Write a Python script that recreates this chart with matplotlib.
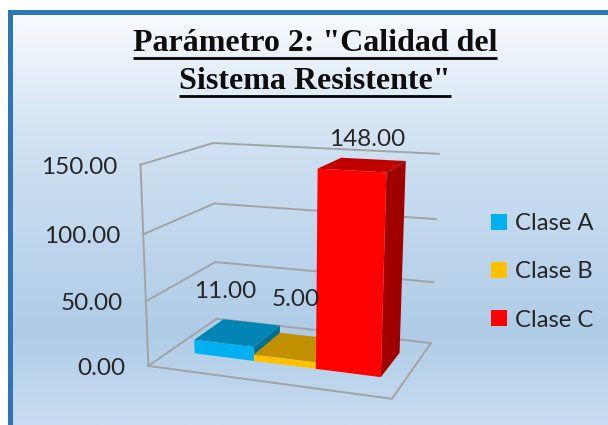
import numpy as np
import matplotlib
matplotlib.use("Agg")
import matplotlib.pyplot as plt
from matplotlib.colors import LinearSegmentedColormap
from matplotlib.patches import Patch

# ---- data ----
title_lines = ['Parámetro 2: "Calidad del', 'Sistema Resistente"']
series = ["Clase A", "Clase B", "Clase C"]
values = [11.0, 5.0, 148.0]
ticks = [0, 50, 100, 150]

# ---- styling ----
front = ["#00B0F0", "#FFC000", "#FF0000"]
top = ["#0085B5", "#C09000", "#C00000"]
side = ["#006F96", "#A07800", "#A00000"]
label_centers = [(225, 291), (296, 300), (367, 140)]
GRID = "#A3A3A3"
TXT = "#262626"
W, H = 608, 425

# camera calibration: box corners (x 0..1, depth 0..1, value) -> canvas pixels
cal = [((0, 0, 0), (148, 366)), ((1, 0, 0), (392, 399)), ((0, 1, 0), (217, 319)),
       ((1, 1, 0), (431, 343)), ((0, 0, 150), (140, 165)), ((0, 1, 150), (213, 143)),
       ((1, 1, 150), (439, 154)), ((0, 0, 50), (146, 301)), ((0, 1, 50), (215, 262)),
       ((1, 1, 50), (433, 282)), ((0, 0, 100), (144, 234)), ((1, 1, 100), (436, 219))]
A = []
for (a, b, c), (u, v) in cal:
    c = c / 150
    A.append([a, b, c, 1, 0, 0, 0, 0, -u * a, -u * b, -u * c, -u])
    A.append([0, 0, 0, 0, a, b, c, 1, -v * a, -v * b, -v * c, -v])
P = np.linalg.svd(np.array(A, float))[2][-1].reshape(3, 4)


def proj(a, b, c):
    p = P @ np.array([a, b, c / 150, 1.0])
    return p[0] / p[2], p[1] / p[2]


fig = plt.figure(figsize=(W / 100, H / 100), dpi=100, facecolor="white")
ax = fig.add_axes([0, 0, 1, 1])
ax.set_xlim(0, W)
ax.set_ylim(H, 0)
ax.axis("off")

# panel with vertical gradient and blue frame
stops = [(0, "#F9FBFE"), (0.33, "#CFE1F2"), (0.78, "#AFCCE7"), (1, "#C9DDF1")]
cmap = LinearSegmentedColormap.from_list("bg", stops)
ax.imshow(np.linspace(0, 1, 256)[:, None], extent=(8, W, H, 10), cmap=cmap,
          aspect="auto", zorder=0)
ax.fill([8, W, W, 13, 13, 8], [10, 10, 15, 15, H, H], color="#2E75B6", lw=0, zorder=1)
ax.set_xlim(0, W)
ax.set_ylim(H, 0)

# box walls and floor
for t in ticks:
    pts = [proj(0, 0, t), proj(0, 1, t), proj(1, 1, t)]
    ax.plot(*zip(*pts), color=GRID, lw=1.4, zorder=2, solid_joinstyle="miter")
ax.plot(*zip(proj(0, 0, 0), proj(0, 0, 150)), color=GRID, lw=1.4, zorder=2)
floor = [proj(0, 0, 0), proj(1, 0, 0), proj(1, 1, 0)]
ax.plot(*zip(*floor), color=GRID, lw=1.4, zorder=2)

# bars
bar_w = 0.265
x_mid = 0.507
d0, d1 = 0.30, 0.75
for i, v in enumerate(values):
    x0 = x_mid + (i - 1.5) * bar_w
    x1 = x0 + bar_w
    z = 3 + i
    ax.fill(*zip(proj(x1, d0, 0), proj(x1, d1, 0), proj(x1, d1, v), proj(x1, d0, v)),
            color=side[i], lw=0, zorder=z)
    ax.fill(*zip(proj(x0, d0, v), proj(x1, d0, v), proj(x1, d1, v), proj(x0, d1, v)),
            color=top[i], lw=0, zorder=z)
    ax.fill(*zip(proj(x0, d0, 0), proj(x1, d0, 0), proj(x1, d0, v), proj(x0, d0, v)),
            color=front[i], lw=0, zorder=z)
    ax.text(*label_centers[i], f"{v:.2f}", family="Lato", fontsize=17.5, color=TXT,
            ha="center", va="center", zorder=10)

# value axis labels
for t in ticks:
    x, y = proj(0, 0, t)
    ax.text(x - 23, y + 2.5, f"{t:.2f}", family="Lato", fontsize=17.5, color=TXT,
            ha="right", va="center", zorder=10)

# title
title_y = [43, 81]
underline_y = [58, 96]
for s, y, ul in zip(title_lines, title_y, underline_y):
    t = ax.text(315, y, s, family="Liberation Serif", weight="bold", fontsize=23,
                color="#0D0D0D", ha="center", va="center", zorder=10)
    fig.canvas.draw()
    bb = t.get_window_extent()
    ax.plot([bb.x0, bb.x1], [ul, ul], color="black", lw=2, zorder=10, solid_capstyle="butt")

# legend
handles = [Patch(facecolor=c, edgecolor="none", label=s) for c, s in zip(front, series)]
leg = ax.legend(handles=handles, loc="center left", bbox_to_anchor=(484 / W, 1 - 272 / H),
                frameon=False, prop={"family": "Lato", "size": 17.2}, labelcolor=TXT,
                handlelength=0.68, handleheight=0.65, handletextpad=0.3, labelspacing=1.135,
                borderaxespad=0, borderpad=0.3)
leg.set_zorder(10)

fig.savefig("out.png", dpi=100)
